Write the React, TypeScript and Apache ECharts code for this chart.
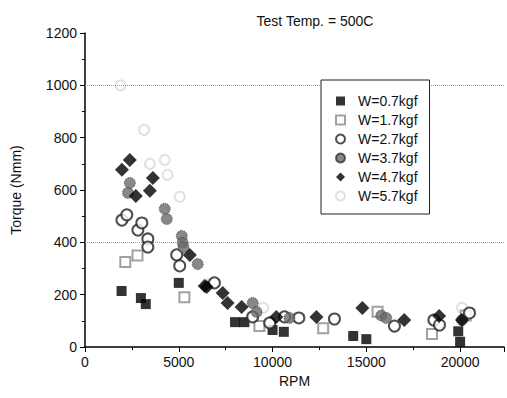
import React, { useEffect, useRef } from "react";
import * as echarts from "echarts";

const seriesNames = ["W=0.7kgf", "W=1.7kgf", "W=2.7kgf", "W=3.7kgf", "W=4.7kgf", "W=5.7kgf"];

const w07: number[][] = [[1950, 214], [2980, 187], [3240, 164], [5000, 245], [8000, 95], [8500, 95], [10000, 65], [10600, 58], [14300, 42], [15000, 30], [19900, 60], [20000, 20]];
const w17: number[][] = [[2150, 325], [2800, 350], [5300, 190], [9300, 80], [12700, 72], [15600, 135], [18500, 50], [20300, 120]];
const w27: number[][] = [[1970, 485], [2230, 505], [2820, 447], [3030, 474], [3350, 413], [3350, 382], [4890, 352], [5050, 310], [6900, 245], [8940, 115], [9850, 92], [10640, 115], [11400, 111], [13300, 107], [16500, 80], [18600, 103], [18900, 84], [20500, 130]];
const w37: number[][] = [[2290, 589], [2390, 627], [4250, 528], [4360, 489], [5160, 424], [5210, 398], [5250, 380], [6010, 317], [8940, 168], [9150, 134], [10900, 111], [15800, 120], [16060, 111], [20100, 103]];
const w47: number[][] = [[1970, 677], [2390, 715], [2710, 577], [3460, 597], [3620, 646], [5590, 352], [6380, 233], [6490, 229], [7340, 206], [7600, 168], [8350, 153], [10200, 115], [12340, 115], [14790, 149], [17020, 103], [18880, 118], [20100, 103]];
const w57: number[][] = [[1900, 1000], [3150, 830], [3460, 700], [4250, 715], [4400, 658], [5050, 574], [6500, 240], [9500, 150], [20100, 150]];

const refLines = [1000, 400];
const titleText = "Test Temp. = 500C";
const xName = "RPM";
const yName = "Torque (Nmm)";

const FONT = "'Liberation Sans', Arial, sans-serif";

export default function App() {
  const ref = useRef<HTMLDivElement>(null);
  useEffect(() => {
    if (!ref.current) return;
    const chart = echarts.init(ref.current, undefined, { renderer: "svg" });
    const styles = [
      { symbol: "rect", symbolSize: 10, itemStyle: { color: "#000" } },
      { symbol: "emptyRect", symbolSize: 10, itemStyle: { color: "#8a8a8a", borderWidth: 1 } },
      { symbol: "emptyCircle", symbolSize: 11, itemStyle: { color: "#222", borderWidth: 1 } },
      { symbol: "circle", symbolSize: 11, itemStyle: { color: "#6a6a6a", borderColor: "#333", borderWidth: 1, borderType: "dotted" } },
      { symbol: "diamond", symbolSize: 14, itemStyle: { color: "#000" } },
      { symbol: "emptyCircle", symbolSize: 10, itemStyle: { color: "#dadada", borderWidth: 1 } },
    ];
    const datas = [w07, w17, w27, w37, w47, w57];
    const series: any[] = datas.map((d, i) => ({
      type: "scatter",
      name: seriesNames[i],
      data: d,
      symbol: styles[i].symbol,
      symbolSize: styles[i].symbolSize,
      itemStyle: styles[i].itemStyle,
      z: 3 + (i === 5 ? -1 : i),
    }));
    series[5].markLine = {
      silent: true,
      symbol: "none",
      label: { show: false },
      lineStyle: { color: "#999", type: "dotted", width: 1 },
      data: refLines.map((v) => ({ yAxis: v })),
    };
    chart.setOption({
      animation: false,
      backgroundColor: "#fff",
      textStyle: { fontFamily: FONT },
      title: {
        text: titleText,
        left: 310,
        top: 9,
        textAlign: "center",
        textStyle: { fontSize: 14, fontWeight: "normal", color: "#111", fontFamily: FONT },
      },
      legend: {
        orient: "vertical",
        left: 321,
        top: 80,
        backgroundColor: "#fff",
        borderColor: "#222",
        borderWidth: 1,
        padding: [14, 12, 11, 14],
        itemGap: 5,
        itemWidth: 9,
        itemHeight: 9,
        textStyle: { fontSize: 14, color: "#111", fontFamily: FONT, padding: [0, 0, 0, 8], lineHeight: 14 },
        data: seriesNames,
        z: 10,
      },
      grid: { left: 85, right: 2, top: 33, bottom: 51 },
      xAxis: {
        type: "value",
        min: 0,
        max: 22340,
        interval: 5000,
        name: xName,
        nameLocation: "middle",
        nameGap: 25,
        nameTextStyle: { fontSize: 14, color: "#111", fontFamily: FONT },
        axisLine: { show: true, onZero: false, lineStyle: { color: "#000", width: 1.5 } },
        axisTick: { show: true, inside: false, length: 5, lineStyle: { color: "#000" } },
        minorTick: { show: true, splitNumber: 2, length: 3, lineStyle: { color: "#000" } },
        splitLine: { show: false },
        axisLabel: {
          fontSize: 14,
          color: "#111",
          margin: 8,
          fontFamily: FONT,
          formatter: (v: number) => (v % 5000 === 0 ? String(v) : ""),
        },
      },
      yAxis: {
        type: "value",
        min: 0,
        max: 1200,
        interval: 200,
        name: yName,
        nameLocation: "middle",
        nameGap: 62,
        nameTextStyle: { fontSize: 14, color: "#111", fontFamily: FONT },
        axisLine: { show: true, onZero: false, lineStyle: { color: "#000", width: 1.5 } },
        axisTick: { show: true, inside: false, length: 5, lineStyle: { color: "#000" } },
        minorTick: { show: true, splitNumber: 2, length: 3, lineStyle: { color: "#000" } },
        splitLine: { show: false },
        axisLabel: { fontSize: 14, color: "#111", margin: 8, fontFamily: FONT, formatter: (v: number) => String(v) },
      },
      series,
    });
    return () => chart.dispose();
  }, []);
  return (
    <div
      ref={ref}
      style={{ position: "fixed", left: 0, top: 0, width: 507, height: 398 }}
    />
  );
}
